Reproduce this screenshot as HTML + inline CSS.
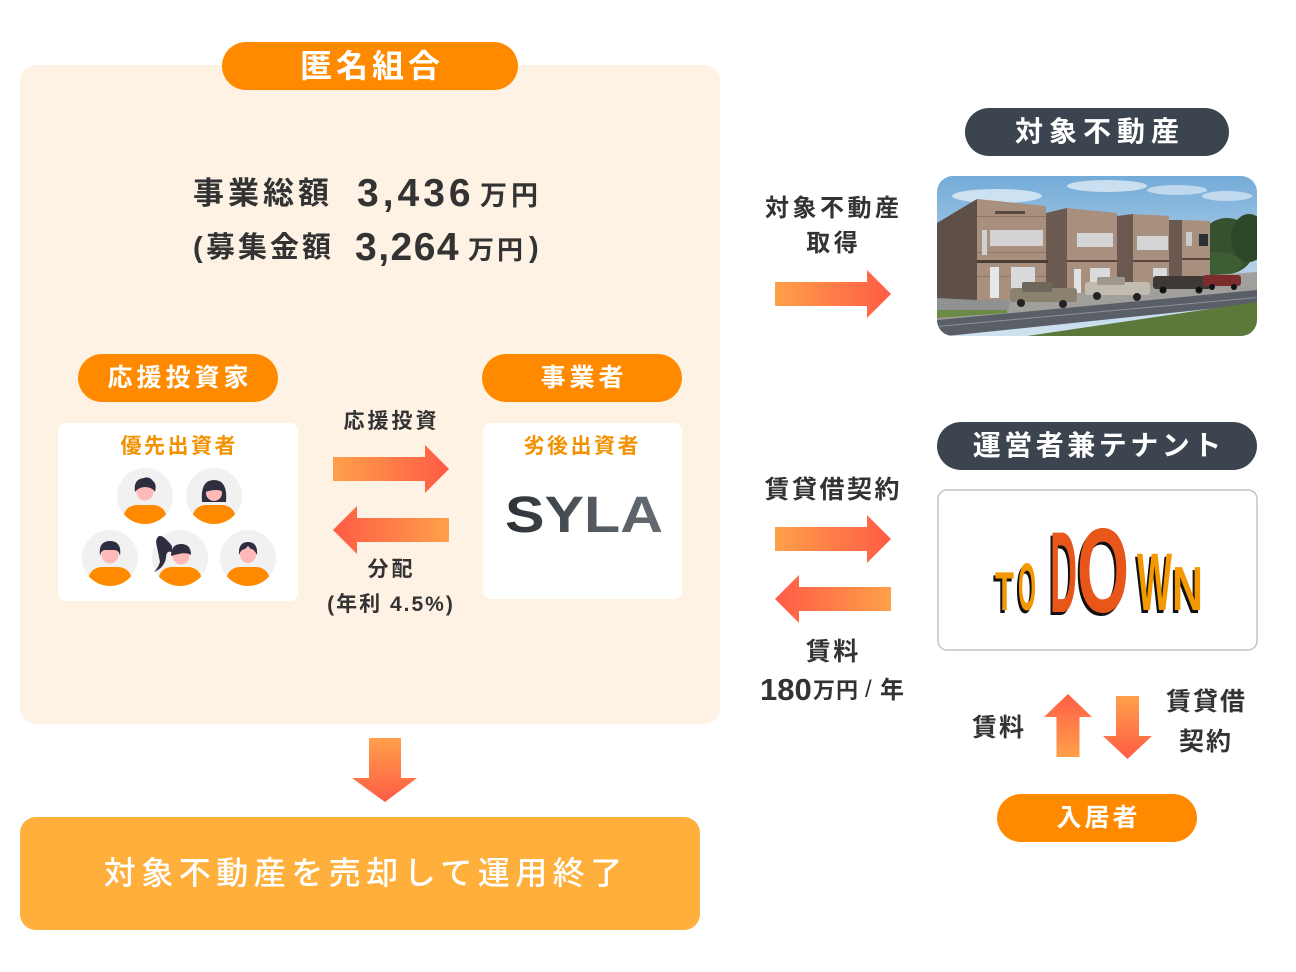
<!DOCTYPE html>
<html><head><meta charset="utf-8">
<style>
html,body{margin:0;padding:0;}
body{width:1296px;height:972px;background:#fff;position:relative;overflow:hidden;font-family:"Liberation Sans","Noto Sans CJK JP",sans-serif;}
.t{position:absolute;white-space:nowrap;font-family:"Liberation Sans","Noto Sans CJK JP",sans-serif;font-weight:700;color:#333;}
.c{text-align:center;}
.w{color:#fff;}
</style></head><body>
<svg width="1296" height="972" style="position:absolute;left:0;top:0" xmlns="http://www.w3.org/2000/svg">
<defs>
<linearGradient id="gR" x1="0" y1="0" x2="1" y2="0"><stop offset="0" stop-color="#FFA04A"/><stop offset="1" stop-color="#FF5B45"/></linearGradient>
<linearGradient id="gL" x1="0" y1="0" x2="1" y2="0"><stop offset="0" stop-color="#FF5B45"/><stop offset="1" stop-color="#FFA04A"/></linearGradient>
<linearGradient id="gU" x1="0" y1="0" x2="0" y2="1"><stop offset="0" stop-color="#FF5E46"/><stop offset="1" stop-color="#FFA04A"/></linearGradient>
<linearGradient id="gD" x1="0" y1="0" x2="0" y2="1"><stop offset="0" stop-color="#FFA04A"/><stop offset="1" stop-color="#FF5B45"/></linearGradient>
<linearGradient id="sky" x1="0" y1="0" x2="0" y2="1"><stop offset="0" stop-color="#74abd8"/><stop offset="0.6" stop-color="#b4d3ea"/><stop offset="1" stop-color="#cfe2ef"/></linearGradient>
<linearGradient id="syla" x1="0" y1="0" x2="1" y2="0"><stop offset="0" stop-color="#2b2f34"/><stop offset="0.5" stop-color="#50565c"/><stop offset="1" stop-color="#646b72"/></linearGradient>
<clipPath id="av"><circle cx="0" cy="0" r="28"/></clipPath>
<clipPath id="ph"><rect x="0" y="0" width="320" height="160" rx="16"/></clipPath>
</defs>

<!-- main box -->
<rect x="20" y="65" width="700" height="659" rx="16" fill="#FEF2E5"/>
<rect x="222" y="42" width="296" height="48" rx="24" fill="#FF8A00"/>
<rect x="78" y="354" width="200" height="48" rx="24" fill="#FF8A00"/>
<rect x="482" y="354" width="200" height="48" rx="24" fill="#FF8A00"/>
<rect x="58" y="423" width="240" height="178" rx="8" fill="#fff"/>
<rect x="483" y="423" width="199" height="176" rx="8" fill="#fff"/>

<!-- arrows left area -->
<polygon points="333,457 425,457 425,445 449,469 425,493 425,481 333,481" fill="url(#gR)"/>
<polygon points="449,518 357,518 357,506 333,530 357,554 357,542 449,542" fill="url(#gL)"/>

<!-- bottom arrow & box -->
<polygon points="369,738 401,738 401,778 417,778 385,802 352,778 369,778" fill="url(#gD)"/>
<rect x="20" y="817" width="680" height="113" rx="16" fill="#FFB03C"/>

<!-- right area -->
<rect x="965" y="108" width="264" height="48" rx="24" fill="#3C4450"/>
<rect x="937" y="422" width="320" height="48" rx="24" fill="#3C4450"/>
<rect x="938" y="490" width="319" height="160" rx="9" fill="#fff" stroke="#c4c4c4" stroke-width="1.5"/>
<rect x="997" y="794" width="200" height="48" rx="24" fill="#FF8A00"/>

<polygon points="775,282 867,282 867,270 891,294 867,318 867,306 775,306" fill="url(#gR)"/>
<polygon points="775,527 867,527 867,515 891,539 867,563 867,551 775,551" fill="url(#gR)"/>
<polygon points="891,587 799,587 799,575 775,599 799,623 799,611 891,611" fill="url(#gL)"/>

<polygon points="1068,694 1092,717 1079.5,717 1079.5,757 1056.5,757 1056.5,717 1044,717" fill="url(#gU)"/>
<polygon points="1116,696 1139,696 1139,736 1152,736 1127.5,759 1103,736 1116,736" fill="url(#gD)"/>

<!-- avatars -->
<g transform="translate(145,496)">
 <circle r="28" fill="#f1f1f1"/>
 <g clip-path="url(#av)"><path d="M-23,30 L-21,18 Q-18,10 -9,9 L9,9 Q18,10 21,18 L23,30 Z" fill="#FF8A00"/></g>
 <circle cx="0" cy="-4" r="8.5" fill="#FFB9B9"/>
 <path d="M-10,-4 Q-12,-17 -1,-18 Q4,-20 8,-15 Q12,-12 10,-4 Q7,-9 0,-9 Q-6,-9 -10,-4Z" fill="#2F2E41"/>
</g>
<g transform="translate(214,496)">
 <circle r="28" fill="#f1f1f1"/>
 <g clip-path="url(#av)"><path d="M-23,30 L-21,18 Q-18,10 -9,9 L9,9 Q18,10 21,18 L23,30 Z" fill="#FF8A00"/></g>
 <path d="M-12,6 Q-14,-16 0,-16 Q14,-16 12,6 Z" fill="#2F2E41"/>
 <circle cx="0" cy="-3" r="8" fill="#FFB9B9"/>
 <path d="M-9,-4 Q-9,-14 0,-14 Q9,-14 9,-4 Q4,-8 -9,-4Z" fill="#2F2E41"/>
</g>
<g transform="translate(110,558)">
 <circle r="28" fill="#f1f1f1"/>
 <g clip-path="url(#av)"><path d="M-23,30 L-21,18 Q-18,10 -9,9 L9,9 Q18,10 21,18 L23,30 Z" fill="#FF8A00"/></g>
 <circle cx="0" cy="-3" r="8.5" fill="#FFB9B9"/>
 <path d="M-10,-2 Q-12,-17 0,-17 Q12,-17 10,-2 Q9,-8 4,-8 L-5,-8 Q-9,-8 -10,-2Z" fill="#2F2E41"/>
</g>
<g transform="translate(180,558)">
 <circle r="28" fill="#f1f1f1"/>
 <g clip-path="url(#av)"><path d="M-23,30 L-21,18 Q-18,10 -9,9 L9,9 Q18,10 21,18 L23,30 Z" fill="#FF8A00"/></g>
 <path d="M-8,-12 Q-22,-30 -24,-16 Q-22,-6 -20,4 Q-22,10 -26,14 Q-16,10 -14,0 Q-14,-8 -8,-6Z" fill="#2F2E41"/>
 <circle cx="1" cy="-2" r="8.5" fill="#FFB9B9"/>
 <path d="M-9,-2 Q-9,-14 1,-14 Q11,-14 11,-3 Q6,-7 -9,-2Z" fill="#2F2E41"/>
</g>
<g transform="translate(248,558)">
 <circle r="28" fill="#f1f1f1"/>
 <g clip-path="url(#av)"><path d="M-23,30 L-21,18 Q-18,10 -9,9 L9,9 Q18,10 21,18 L23,30 Z" fill="#FF8A00"/></g>
 <circle cx="0" cy="-3" r="8" fill="#FFB9B9"/>
 <path d="M-9,-3 Q-10,-16 0,-16 Q10,-16 9,-3 Q6,-9 3,-9 L0,-12 L-3,-9 Q-7,-9 -9,-3Z" fill="#2F2E41"/>
</g>

<!-- SYLA -->
<text x="505" y="532" font-family="Liberation Sans" font-weight="700" font-size="51" textLength="158" lengthAdjust="spacingAndGlyphs" fill="url(#syla)">SYLA</text>

<!-- TODOWN -->
<g font-family="Liberation Sans" font-weight="700" lengthAdjust="spacingAndGlyphs">
 <text x="993" y="613" font-size="55" textLength="19" lengthAdjust="spacingAndGlyphs" fill="#111">T</text>
 <text x="1016" y="613" font-size="67" textLength="18" lengthAdjust="spacingAndGlyphs" fill="#111">O</text>
 <text x="1048" y="615" font-size="115" textLength="27" lengthAdjust="spacingAndGlyphs" fill="#111">D</text>
 <text x="1075" y="615" font-size="120" textLength="52" lengthAdjust="spacingAndGlyphs" fill="#111">O</text>
 <text x="1135" y="613" font-size="82" textLength="35" lengthAdjust="spacingAndGlyphs" fill="#111">W</text>
 <text x="1170" y="613" font-size="62" textLength="31" lengthAdjust="spacingAndGlyphs" fill="#111">N</text>
 <text x="995" y="610" font-size="55" textLength="19" lengthAdjust="spacingAndGlyphs" fill="#F39800">T</text>
 <text x="1018" y="610" font-size="67" textLength="18" lengthAdjust="spacingAndGlyphs" fill="#F39800">O</text>
 <text x="1050" y="612" font-size="115" textLength="27" lengthAdjust="spacingAndGlyphs" fill="#E8561A">D</text>
 <text x="1077" y="612" font-size="120" textLength="52" lengthAdjust="spacingAndGlyphs" fill="#E8561A">O</text>
 <text x="1137" y="610" font-size="82" textLength="35" lengthAdjust="spacingAndGlyphs" fill="#F39800">W</text>
 <text x="1172" y="610" font-size="62" textLength="31" lengthAdjust="spacingAndGlyphs" fill="#F39800">N</text>
</g>

<!-- photo -->
<g transform="translate(937,176)">
 <g clip-path="url(#ph)">
  <rect width="320" height="160" fill="url(#sky)"/>
  <ellipse cx="60" cy="20" rx="45" ry="7" fill="#fff" opacity="0.6"/>
  <ellipse cx="170" cy="10" rx="40" ry="6" fill="#fff" opacity="0.6"/>
  <ellipse cx="240" cy="14" rx="30" ry="5" fill="#fff" opacity="0.5"/>
  <ellipse cx="290" cy="20" rx="25" ry="5" fill="#fff" opacity="0.5"/>
  <!-- trees -->
  <ellipse cx="290" cy="70" rx="28" ry="28" fill="#35522f"/>
  <ellipse cx="312" cy="62" rx="18" ry="24" fill="#2c4628"/>
  <ellipse cx="280" cy="88" rx="25" ry="12" fill="#3d5d35"/>
  <!-- lot -->
  <polygon points="0,118 320,96 320,116 0,146" fill="#a09f9b"/>
  <!-- road -->
  <polygon points="0,144 320,114 320,128 0,161" fill="#5a5e66"/>
  <polygon points="0,150 320,121 320,122 0,151" fill="#8d9096"/>
  <!-- grass -->
  <polygon points="90,160 320,126 320,160" fill="#5c783b"/>
  <polygon points="0,125 70,121 70,137 0,142" fill="#6a8a45"/>
  <rect x="0" y="118" width="72" height="16" fill="#8f9291"/>
  <!-- H4 -->
  <polygon points="232,44 245,44 245,103 232,104" fill="#6b5850"/>
  <polygon points="245,44 273,45 273,102 245,103" fill="#a8907f"/>
  <rect x="249" y="56" width="6" height="14" fill="#c9cbcc"/>
  <rect x="262" y="58" width="9" height="12" fill="#2a3030"/>
  <rect x="245" y="82" width="28" height="2" fill="#5a463e"/>
  <!-- H3 -->
  <polygon points="180,40 196,38 196,111 180,112" fill="#6b5850"/>
  <polygon points="196,38 232,40 232,110 196,111" fill="#a8907f"/>
  <rect x="200" y="60" width="31" height="14" fill="#d4d5d4"/>
  <rect x="196" y="84" width="36" height="2" fill="#5a463e"/>
  <rect x="216" y="92" width="14" height="16" fill="#d8dadb"/>
  <!-- H2 -->
  <polygon points="109,37 130,32 130,117 109,118" fill="#6d5a51"/>
  <polygon points="130,32 180,37 180,116 130,117" fill="#a98f7e"/>
  <rect x="140" y="57" width="36" height="14" fill="#d4d5d4"/>
  <rect x="130" y="84" width="50" height="2" fill="#5a463e"/>
  <rect x="137" y="93" width="7" height="24" fill="#e2e3e4"/>
  <rect x="153" y="92" width="20" height="22" fill="#d8dadb"/>
  <!-- H1 -->
  <polygon points="0,47 40,23 40,124 0,122" fill="#5e4f48"/>
  <polygon points="40,23 109,30 109,123 40,124" fill="#a98f7e"/>
  <rect x="40" y="40" width="69" height="1" fill="#8f7768"/>
  <rect x="40" y="76" width="69" height="1" fill="#8f7768"/>
  <rect x="40" y="100" width="69" height="1" fill="#8f7768"/>
  <rect x="53" y="54" width="53" height="16" fill="#d2d3d2"/>
  <rect x="45" y="54" width="5" height="25" fill="#cfd2d4"/>
  <rect x="58" y="35" width="30" height="3" fill="#5a4a42"/>
  <rect x="40" y="84" width="71" height="3" fill="#4e3d36"/>
  <rect x="53" y="91" width="9" height="31" fill="#e6e7e8"/>
  <rect x="74" y="91" width="24" height="27" fill="#d8dadb"/>
  <!-- cars -->
  <rect x="73" y="112" width="67" height="14" rx="3" fill="#8a826f"/>
  <rect x="85" y="106" width="30" height="10" rx="2" fill="#6e685c"/>
  <circle cx="84" cy="127" r="4" fill="#222"/><circle cx="126" cy="128" r="4" fill="#222"/>
  <rect x="148" y="106" width="65" height="13" rx="3" fill="#c2bbb0"/>
  <rect x="160" y="101" width="28" height="8" rx="2" fill="#9d978d"/>
  <circle cx="160" cy="120" r="4" fill="#222"/><circle cx="200" cy="121" r="4" fill="#222"/>
  <rect x="216" y="100" width="58" height="13" rx="3" fill="#3f3936"/>
  <circle cx="226" cy="114" r="3.5" fill="#111"/><circle cx="262" cy="114" r="3.5" fill="#111"/>
  <rect x="266" y="99" width="38" height="11" rx="3" fill="#7c2c2c"/>
  <circle cx="275" cy="111" r="3" fill="#111"/><circle cx="297" cy="111" r="3" fill="#111"/>
 </g>
</g>
</svg>

<!-- texts -->
<div class="t c w" style="left:222px;top:42px;width:296px;height:48px;line-height:48px;font-size:32px;letter-spacing:4px;padding-left:4px;box-sizing:border-box;">匿名組合</div>

<div class="t" style="left:193px;top:174px;line-height:40px;font-size:31px;letter-spacing:4px;">事業総額</div>
<div class="t" style="left:357px;top:174px;line-height:40px;font-size:39px;letter-spacing:4px;font-family:'Liberation Sans',sans-serif;">3,436</div>
<div class="t" style="left:480px;top:176px;line-height:40px;font-size:27px;letter-spacing:4px;">万円</div>

<div class="t" style="left:193px;top:228px;line-height:40px;font-size:29px;font-family:'Liberation Sans',sans-serif;">(</div>
<div class="t" style="left:206px;top:228px;line-height:40px;font-size:29px;letter-spacing:3px;">募集金額</div>
<div class="t" style="left:355px;top:228px;line-height:40px;font-size:39px;letter-spacing:1.5px;font-family:'Liberation Sans',sans-serif;">3,264</div>
<div class="t" style="left:468px;top:230px;line-height:40px;font-size:26px;letter-spacing:3px;">万円</div>
<div class="t" style="left:529px;top:228px;line-height:40px;font-size:29px;font-family:'Liberation Sans',sans-serif;">)</div>

<div class="t c w" style="left:78px;top:354px;width:200px;height:48px;line-height:48px;font-size:25px;letter-spacing:4px;padding-left:4px;box-sizing:border-box;">応援投資家</div>
<div class="t c w" style="left:482px;top:354px;width:200px;height:48px;line-height:48px;font-size:25px;letter-spacing:4px;padding-left:4px;box-sizing:border-box;">事業者</div>

<div class="t c" style="left:58px;top:435px;width:240px;line-height:24px;font-size:21px;letter-spacing:2.5px;padding-left:2.5px;box-sizing:border-box;color:#F39200;">優先出資者</div>
<div class="t c" style="left:481px;top:435px;width:200px;line-height:24px;font-size:21px;letter-spacing:2.5px;padding-left:2.5px;box-sizing:border-box;color:#F39200;">劣後出資者</div>

<div class="t c" style="left:290px;top:410px;width:200px;line-height:24px;font-size:21px;letter-spacing:3px;padding-left:3px;box-sizing:border-box;">応援投資</div>
<div class="t c" style="left:290px;top:558px;width:200px;line-height:24px;font-size:21px;letter-spacing:3px;padding-left:3px;box-sizing:border-box;">分配</div>
<div class="t c" style="left:290px;top:593px;width:200px;line-height:24px;font-size:21px;letter-spacing:2px;padding-left:2px;box-sizing:border-box;">(年利 4.5%)</div>

<div class="t c w" style="left:1033px;top:108px;width:264px;height:48px;line-height:48px;font-size:28px;letter-spacing:6px;padding-left:6px;box-sizing:border-box;left:965px;">対象不動産</div>
<div class="t c" style="left:732px;top:197px;width:200px;line-height:24px;font-size:24px;letter-spacing:3.5px;padding-left:3.5px;box-sizing:border-box;">対象不動産</div>
<div class="t c" style="left:732px;top:232px;width:200px;line-height:24px;font-size:24px;letter-spacing:3.5px;padding-left:3.5px;box-sizing:border-box;">取得</div>

<div class="t c w" style="left:937px;top:422px;width:320px;height:48px;line-height:48px;font-size:28px;letter-spacing:3.5px;padding-left:3.5px;box-sizing:border-box;">運営者兼テナント</div>

<div class="t c" style="left:732px;top:478px;width:200px;line-height:24px;font-size:25px;letter-spacing:2.5px;padding-left:2.5px;box-sizing:border-box;">賃貸借契約</div>
<div class="t c" style="left:732px;top:640px;width:200px;line-height:24px;font-size:25px;letter-spacing:2.5px;padding-left:2.5px;box-sizing:border-box;">賃料</div>
<div class="t" style="left:760px;top:676px;line-height:28px;font-size:31px;letter-spacing:0px;font-weight:700;font-family:'Liberation Sans',sans-serif;">180</div>
<div class="t" style="left:813px;top:678px;line-height:26px;font-size:22px;letter-spacing:1px;">万円</div>
<div class="t" style="left:865px;top:677px;line-height:26px;font-size:24px;font-weight:400;font-family:'Liberation Sans',sans-serif;">/</div>
<div class="t" style="left:880px;top:678px;line-height:26px;font-size:24px;">年</div>

<div class="t" style="left:972px;top:716px;line-height:24px;font-size:25px;letter-spacing:2px;">賃料</div>
<div class="t" style="left:1166px;top:690px;line-height:24px;font-size:25px;letter-spacing:2px;">賃貸借</div>
<div class="t" style="left:1179px;top:730px;line-height:24px;font-size:25px;letter-spacing:2px;">契約</div>

<div class="t c w" style="left:997px;top:794px;width:200px;height:48px;line-height:48px;font-size:25px;letter-spacing:3px;padding-left:3px;box-sizing:border-box;">入居者</div>

<div class="t c w" style="left:20px;top:817px;width:686px;height:113px;line-height:113px;font-size:32px;letter-spacing:5.5px;padding-left:5.5px;box-sizing:border-box;font-weight:500;">対象不動産を売却して運用終了</div>
</body></html>
